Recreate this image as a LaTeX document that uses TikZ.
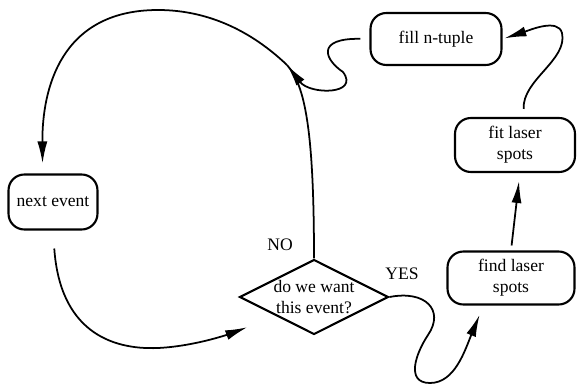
\documentclass[tikz,border=0pt]{standalone}
\usepackage{fontspec}
\setmainfont{Liberation Serif}
\usetikzlibrary{arrows.meta,shapes.geometric}

\begin{document}
\begin{tikzpicture}[x=0.02cm,y=-0.02cm,
    box/.style={draw, line width=1.2pt, rounded corners=9pt, align=center},
    choice/.style={draw, line width=1.2pt, shape=diamond, aspect=2,
        inner xsep=-2pt, inner ysep=0pt, align=center,
        minimum width=2.98cm, minimum height=1.5cm},
    flow/.style={line width=1pt, -{Latex[length=4.4mm,width=2mm]}},
    plain/.style={line width=1pt}]

\useasboundingbox (0,0) rectangle (578,385);

\node[box, minimum width=2.62cm, minimum height=1.04cm] (fill) at (436,39) {fill n-tuple};
\node[box, minimum width=2.4cm, minimum height=1.08cm] (fit) at (515,145) {fit laser\\spots};
\node[box, minimum width=2.54cm, minimum height=1.06cm] (find) at (511,278) {find laser\\spots};
\node[box, minimum width=1.78cm, minimum height=1.1cm] (next) at (53,202) {next event};
\node[choice] (want) at (314,297) {do we want\\this event?};

\node (no) at (280,245) {NO};
\node (yes) at (402,274) {YES};

\coordinate (join) at (287,65);

\draw[plain] (want.north) .. controls (314,130) and (305,85) .. (join);
\draw[flow, shorten <=0.18cm] (fill.west) .. controls (315,38) and (325,60) .. (343,72)
    .. controls (360,95) and (310,95) .. (join);
\draw[flow, shorten >=0.2cm] (join) .. controls (245,25) and (200,10) .. (158,10)
    .. controls (60,10) and (42,90) .. (next.110);

\draw[flow, shorten <=0.36cm, shorten >=0.62cm] (next.south) .. controls (60,330) and (110,350) .. (158,348)
    .. controls (200,346) and (240,330) .. (want.south west);
\draw[flow, shorten >=0.2cm] (want.east) .. controls (425,290) and (445,310) .. (428,335)
    .. controls (416,353) and (405,383) .. (430,383)
    .. controls (455,383) and (465,350) .. (find.225);
\draw[flow, shorten <=0.1cm, shorten >=0.16cm] (find.north) -- (fit.-80);
\draw[flow, shorten <=0.16cm, shorten >=0.04cm] (fit.72) .. controls (522,80) and (568,60) .. (562,33)
    .. controls (558,18) and (530,30) .. (fill.east);

\end{tikzpicture}
\end{document}
